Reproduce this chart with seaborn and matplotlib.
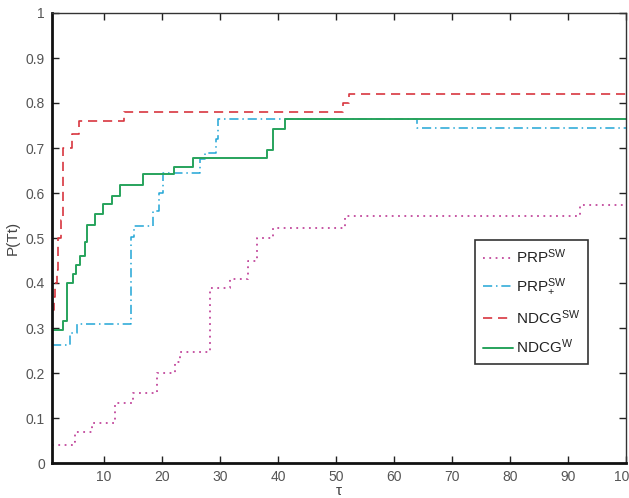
import matplotlib
matplotlib.use("Agg")
import matplotlib.pyplot as plt
import seaborn as sns
import pandas as pd

# PRP^SW (dotted)
prp_x = [1, 4.6, 5.0, 7.9, 11.9, 15.0, 19.1, 22.2, 23.0, 28.3, 31.7, 34.8, 36.4, 39.1, 51.5, 92.0, 100]
prp_y = [0.04, 0.047, 0.07, 0.09, 0.133, 0.156, 0.2, 0.225, 0.247, 0.39, 0.41, 0.45, 0.5, 0.523, 0.549, 0.573, 0.573]
# PRP+^SW (dash-dot)
prpp_x = [1, 4.1, 5.3, 14.7, 15.2, 18.4, 19.5, 20.2, 26.5, 27.4, 29.2, 29.7, 64.0, 100]
prpp_y = [0.262, 0.29, 0.31, 0.502, 0.527, 0.56, 0.6, 0.645, 0.675, 0.69, 0.72, 0.765, 0.744, 0.744]
# NDCG^SW (dashed)
ndsw_x = [1, 1.3, 1.5, 1.8, 2.0, 2.5, 2.9, 4.5, 5.7, 13.4, 51.2, 52.2, 100]
ndsw_y = [0.34, 0.37, 0.40, 0.43, 0.50, 0.54, 0.70, 0.73, 0.76, 0.78, 0.80, 0.82, 0.82]
# NDCG^W (solid)
ndw_x = [1, 2.9, 3.6, 4.7, 5.2, 5.9, 6.7, 7.1, 8.4, 9.8, 11.3, 12.7, 16.7, 22.0, 25.4, 38.0, 39.2, 41.2, 100]
ndw_y = [0.296, 0.316, 0.40, 0.42, 0.44, 0.46, 0.49, 0.529, 0.553, 0.576, 0.594, 0.618, 0.642, 0.658, 0.677, 0.695, 0.742, 0.765, 0.765]

labels = [r"PRP$^{\mathrm{SW}}$", r"PRP$_{+}^{\mathrm{SW}}$", r"NDCG$^{\mathrm{SW}}$", r"NDCG$^{\mathrm{W}}$"]
xticks = [10, 20, 30, 40, 50, 60, 70, 80, 90, 100]
yticks = [0, 0.1, 0.2, 0.3, 0.4, 0.5, 0.6, 0.7, 0.8, 0.9, 1]
ytick_labels = ["0", "0.1", "0.2", "0.3", "0.4", "0.5", "0.6", "0.7", "0.8", "0.9", "1"]

sns.set_theme(style="white")
plt.rcParams["font.family"] = ["Liberation Sans", "DejaVu Sans"]
plt.rcParams["mathtext.fontset"] = "custom"
plt.rcParams["mathtext.rm"] = "Liberation Sans"
plt.rcParams["mathtext.it"] = "Liberation Sans"

fig = plt.figure(figsize=(6.29, 4.98), dpi=100)
ax = fig.add_axes([52/629, 1-463/498, (626-52)/629, (463-13)/498])

series = [
    (prp_x, prp_y, "#c2489c", (0, (1, 2.5)), 1.3),
    (prpp_x, prpp_y, "#22a6d6", (0, (6, 2.5, 1, 2.5)), 1.1),
    (ndsw_x, ndsw_y, "#d8363f", (0, (5.5, 3.5)), 1.2),
    (ndw_x, ndw_y, "#27a35c", "-", 1.4),
]
for (xs, ys, c, ls, lw), lab in zip(series, labels):
    df = pd.DataFrame({"tau": xs, "p": ys})
    sns.lineplot(data=df, x="tau", y="p", ax=ax, color=c, linestyle=ls,
                 linewidth=lw, drawstyle="steps-post", label=lab, sort=True)

ax.set_xlim(1, 100)
ax.set_ylim(0, 1)
ax.set_xticks(xticks)
ax.set_xticklabels([str(t) for t in xticks])
ax.set_yticks(yticks)
ax.set_yticklabels(ytick_labels)
ax.tick_params(direction="in", length=5, width=1, colors="#222222", labelcolor="#555555",
               labelsize=10, top=True, right=True, bottom=True, left=True, pad=5)
ax.set_xlabel("τ", fontsize=11, color="#444444", labelpad=0)
ax.set_ylabel("P(Tt)", fontsize=11, color="#444444", labelpad=4)
for side in ["left", "bottom"]:
    ax.spines[side].set_linewidth(2)
    ax.spines[side].set_color("#111111")
for side in ["top", "right"]:
    ax.spines[side].set_linewidth(1)
    ax.spines[side].set_color("#333333")

leg = ax.legend(loc="upper left", bbox_to_anchor=(0.737, 0.496), fancybox=False,
                frameon=True, edgecolor="black", fontsize=11, handlelength=2.0,
                handletextpad=0.2, borderpad=0.5, labelspacing=0.7, borderaxespad=0)
leg.get_frame().set_linewidth(1.2)
for t in leg.get_texts():
    t.set_color("#222222")

fig.savefig("out.png", dpi=100)
